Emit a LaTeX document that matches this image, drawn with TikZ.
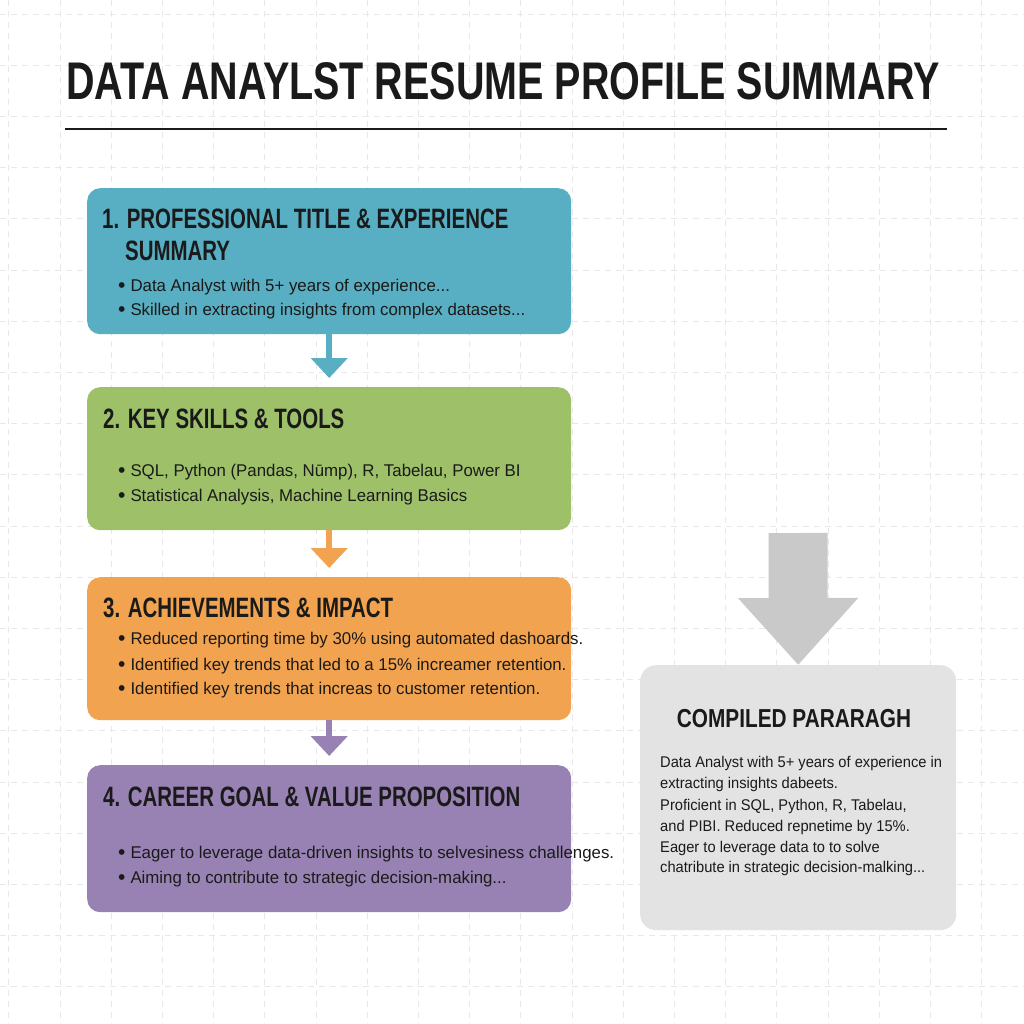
\documentclass[tikz,border=0pt]{standalone}
\usepackage{fontspec}
\usepackage{graphicx}
\setmainfont{Liberation Sans}
\usetikzlibrary{arrows.meta}
\definecolor{cteal}{HTML}{58AEC2}
\definecolor{cgreen}{HTML}{9DC069}
\definecolor{corange}{HTML}{F2A34F}
\definecolor{cpurple}{HTML}{9882B3}
\definecolor{cgraybox}{HTML}{E3E3E3}
\definecolor{cgrayarrow}{HTML}{C9C9C9}
\definecolor{cgrid}{HTML}{E8E8E8}
\definecolor{ctext}{HTML}{1A1A1A}
\newcommand\hdtext[2]{\scalebox{#1}[1]{\fontsize{28}{28}\selectfont\bfseries #2}}
\newcommand\bodytext[1]{\scalebox{0.99}[1]{\fontsize{17}{17}\selectfont #1}}
\newcommand\bul{\raisebox{-1.8pt}{\scalebox{1.25}{•}}\hspace{5pt}}
\newcommand\cptext[1]{\scalebox{0.947}[1]{\fontsize{15.5}{15.5}\selectfont #1}}
\begin{document}
\begin{tikzpicture}[x=1pt,y=-1pt,
  box/.style={draw=none, rounded corners=13pt, minimum width=484pt, minimum height=146pt, inner sep=0pt, anchor=north west},
  txt/.style={anchor=base west, inner sep=0pt, text=ctext},
  flowarrow/.style={line width=6.5pt, -{Triangle[width=36pt,length=20pt]}, shorten >=9pt}]
\useasboundingbox (0,0) rectangle (1024,1024);
\fill[white] (0,0) rectangle (1024,1024);
% faint grid
\foreach \i in {0,...,19} {
  \draw[cgrid, dashed, line width=0.8pt, dash pattern=on 6pt off 5pt] (8.8+51.2*\i,0) -- (8.8+51.2*\i,1024);
  \draw[cgrid, dashed, line width=0.8pt, dash pattern=on 6pt off 5pt] (0,14+51.2*\i) -- (1024,14+51.2*\i);
}
% title
\node[anchor=base, inner sep=0pt, text=ctext] (title) at (503,100) {\scalebox{0.745}[1]{\fontsize{53}{53}\selectfont\bfseries DATA ANAYLST RESUME PROFILE SUMMARY}};
\coordinate (rl) at (65,129);
\coordinate (rr) at (947,129);
\draw[line width=2.4pt, ctext] (rl) -- (rr);
% boxes
\node[box, fill=cteal] (b1) at (87,188) {};
\node[box, fill=cgreen, minimum height=143pt] (b2) at (87,387) {};
\node[box, fill=corange, minimum height=143pt] (b3) at (87,577) {};
\node[box, fill=cpurple, minimum height=147pt] (b4) at (87,765) {};
\node[box, fill=cgraybox, minimum width=316pt, minimum height=265pt, rounded corners=16pt] (cp) at (640,665) {};
% arrows
\draw[flowarrow, cteal] (b1.south) -- (b2.north);
\draw[flowarrow, corange] (b2.south) -- (b3.north);
\draw[flowarrow, cpurple] (b3.south) -- (b4.north);
\coordinate (ga) at (798,533);
\draw[cgrayarrow, line width=59pt, -{Triangle[width=116pt,length=67pt]}] (ga) -- (cp.north);
% box 1 text
\node[txt] (h1a) at (102,229) {\hdtext{0.73}{1. PROFESSIONAL TITLE \& EXPERIENCE}};
\node[txt] (h1b) at (125,260) {\hdtext{0.73}{SUMMARY}};
\node[txt] (t1a) at (118,291) {\bodytext{\bul Data Analyst with 5+ years of experience...}};
\node[txt] (t1b) at (118,315) {\bodytext{\bul Skilled in extracting insights from complex datasets...}};
% box 2 text
\node[txt] (h2) at (103,428) {\hdtext{0.73}{2. KEY SKILLS \& TOOLS}};
\node[txt] (t2a) at (118,476) {\bodytext{\bul SQL, Python (Pandas, Nūmp), R, Tabelau, Power BI}};
\node[txt] (t2b) at (118,501) {\bodytext{\bul Statistical Analysis, Machine Learning Basics}};
% box 3 text
\node[txt] (h3) at (103,617) {\hdtext{0.73}{3. ACHIEVEMENTS \& IMPACT}};
\node[txt] (t3a) at (118,644) {\bodytext{\bul Reduced reporting time by 30\% using automated dashoards.}};
\node[txt] (t3b) at (118,670) {\bodytext{\bul Identified key trends that led to a 15\% increamer retention.}};
\node[txt] (t3c) at (118,694) {\bodytext{\bul Identified key trends that increas to customer retention.}};
% box 4 text
\node[txt] (h4) at (103,806) {\hdtext{0.73}{4. CAREER GOAL \& VALUE PROPOSITION}};
\node[txt] (t4a) at (118,858) {\bodytext{\bul Eager to leverage data-driven insights to selvesiness challenges.}};
\node[txt] (t4b) at (118,883) {\bodytext{\bul Aiming to contribute to strategic decision-making...}};
% compiled paragraph
\node[anchor=base, inner sep=0pt, text=ctext] (hc) at (794,727) {\scalebox{0.80}[1]{\fontsize{26}{26}\selectfont\bfseries COMPILED PARARAGH}};
\node[txt] (c1) at (660,767) {\cptext{Data Analyst with 5+ years of experience in}};
\node[txt] (c2) at (660,788) {\cptext{extracting insights dabeets.}};
\node[txt] (c3) at (660,810) {\cptext{Proficient in SQL, Python, R, Tabelau,}};
\node[txt] (c4) at (660,831) {\cptext{and PIBI. Reduced repnetime by 15\%.}};
\node[txt] (c5) at (660,852) {\cptext{Eager to leverage data to to solve}};
\node[txt] (c6) at (660,872) {\cptext{chatribute in strategic decision-malking...}};
\end{tikzpicture}
\end{document}
